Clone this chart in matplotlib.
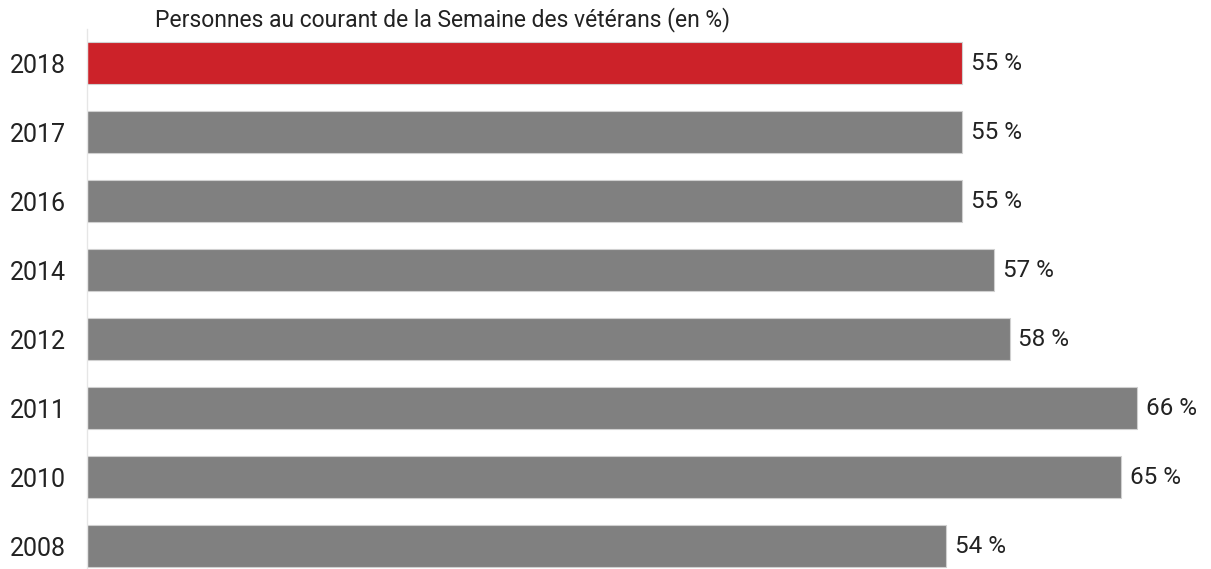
import matplotlib
matplotlib.use("Agg")
import matplotlib.pyplot as plt

years = ["2018", "2017", "2016", "2014", "2012", "2011", "2010", "2008"]
values = [55, 55, 55, 57, 58, 66, 65, 54]
value_labels = ["55 %", "55 %", "55 %", "57 %", "58 %", "66 %", "65 %", "54 %"]
title = "Personnes au courant de la Semaine des vétérans (en %)"

plt.rcParams['font.family'] = ['Roboto', 'DejaVu Sans']

W, H = 1211, 569
fig = plt.figure(figsize=(W / 100, H / 100), dpi=100)
ax = fig.add_axes([87 / W, 0, (W - 87) / W, (569 - 29) / H])

colors = ["#CC2229"] + ["#808080"] * (len(years) - 1)
ypos = list(range(len(years)))
ax.barh(ypos, values, height=0.61, color=colors, edgecolor="#d0d0d0", linewidth=0.8)

for y, v, lab in zip(ypos, values, value_labels):
    ax.text(v + 0.55, y, lab, va="center", ha="left", fontsize=17.5, color="#222222")

ax.set_xlim(0, 66 * (W - 87) / 1050)
ax.set_ylim(7.333, -0.493)
ax.set_yticks(ypos)
ax.set_yticklabels(years, fontsize=18, color="#222222")
ax.tick_params(axis="y", length=0, pad=15)
ax.set_xticks([])
for s in ["top", "right", "bottom"]:
    ax.spines[s].set_visible(False)
ax.spines["left"].set_color("#e6e6e6")
ax.spines["left"].set_linewidth(1)

fig.text(155 / W, 1 - 20 / H, title, fontsize=16.5, color="#222222", ha="left", va="center")

fig.savefig("out.png", dpi=100)
